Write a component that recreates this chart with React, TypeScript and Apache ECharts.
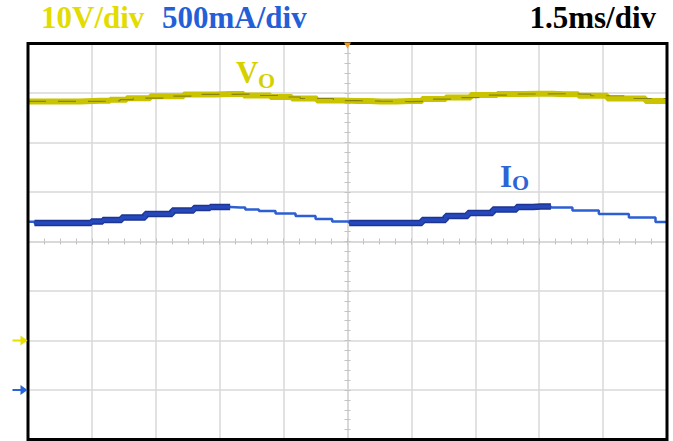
import React, { useEffect, useRef } from "react";
import * as echarts from "echarts";

// ---- Data ----
// Output voltage Vo (CH1, 10 V/div, ground marker 2 div below centre)
const voTimeMs = [0, 0.75, 1.69, 2.16, 2.47, 3.27, 4.04, 4.75, 5.38, 6.0, 6.39, 7.17, 7.74, 8.28, 8.98, 9.52, 10.09, 10.7, 11.33, 11.97, 12.63, 13.21, 13.99, 15.0];
const voVolts = [48.3, 48.3, 48.42, 48.66, 48.96, 49.36, 49.72, 49.8, 49.49, 49.19, 48.89, 48.46, 48.36, 48.26, 48.36, 48.77, 49.07, 49.58, 49.8, 49.84, 49.74, 49.43, 48.89, 48.36];

// Output current Io (CH2, 500 mA/div, ground marker 3 div below centre)
const ioTimeMs = [0, 0.3, 1.39, 1.58, 1.93, 2.47, 3.03, 3.74, 4.04, 4.51, 4.98, 5.22, 5.62, 6.0, 6.56, 6.94, 7.34, 7.74, 8.98, 9.52, 10.09, 10.56, 11.26, 11.68, 12.04, 12.51, 13.05, 13.75, 14.46, 15.0];
const ioMilliamps = [1700, 1687, 1687, 1702, 1717, 1742, 1778, 1813, 1838, 1848, 1843, 1823, 1808, 1783, 1758, 1727, 1702, 1687, 1687, 1717, 1758, 1788, 1823, 1848, 1854, 1843, 1813, 1778, 1742, 1697];

// Axis scales
const timeAxis = { min: 0, max: 15, interval: 1.5 }; // 1.5 ms/div, 10 div
const voltAxis = { min: -20, max: 60, interval: 10 }; // 10 V/div, 8 div
const ampAxis = { min: -500, max: 3500, interval: 500 }; // 500 mA/div, 8 div
const divX = { min: -5, max: 5, interval: 1 };
const divY = { min: -4, max: 4, interval: 1 };

// Text
const scaleLabels = { volt: "10V/div", amp: "500mA/div", time: "1.5ms/div" };
const traceNames = { vo: ["V", "O"], io: ["I", "O"] };
const groundMarkers = { volt: 0, amp: 0 };
const triggerTimeMs = 7.5;

const gridColor = "#d9d9d9";
const tickColor = "#c2c2c2";
const yellow = "#c9c300";
const yellowText = "#e2dc00";
const blue = "#2c5fd2";
const blueDark = "#1d3590";
const blueMid = "#2548bc";
const serif = "'Liberation Serif', 'Times New Roman', serif";

const arrowPath = "path://M0,4 L8,4 L8,0 L15,5 L8,10 L8,6 L0,6 Z";

function buildOption() {
  const n = ioMilliamps.length;
  const rising = ioMilliamps.map((v, i) => i < n - 1 && ioMilliamps[i + 1] >= v);
  const ioThick = ioTimeMs.map((t, i) => [t, rising[i] || (i > 0 && rising[i - 1]) ? ioMilliamps[i] : null]);
  const ioData = ioTimeMs.map((t, i) => [t, ioMilliamps[i]]);
  const voData = voTimeMs.map((t, i) => [t, voVolts[i]]);

  const hidden = { axisLabel: { show: false }, axisTick: { show: false }, splitLine: { show: false }, axisLine: { show: false } };
  const tickLine = { show: true, lineStyle: { color: gridColor, width: 1.5 } };

  const centreX = (inside: boolean) => ({
    type: "value",
    gridIndex: 0,
    position: "bottom",
    ...divX,
    axisLine: { ...tickLine, onZero: true, onZeroAxisIndex: 2 },
    axisTick: { show: true, inside, length: 3, lineStyle: { color: tickColor, width: 1 } },
    minorTick: { show: true, splitNumber: 4, length: 3, lineStyle: { color: tickColor, width: 1 } },
    axisLabel: { show: false },
    splitLine: { show: false },
  });
  const centreY = (inside: boolean) => ({
    type: "value",
    gridIndex: 0,
    position: "left",
    ...divY,
    axisLine: { ...tickLine, onZero: true, onZeroAxisIndex: 1 },
    axisTick: { show: true, inside, length: 3, lineStyle: { color: tickColor, width: 1 } },
    minorTick: { show: true, splitNumber: 5, length: 3, lineStyle: { color: tickColor, width: 1 } },
    axisLabel: { show: false },
    splitLine: { show: false },
  });

  return {
    animation: false,
    backgroundColor: "#ffffff",
    grid: {
      left: 28,
      top: 43.5,
      width: 639,
      height: 396,
      show: true,
      z: 5,
      borderColor: "#000000",
      borderWidth: 3,
      backgroundColor: "transparent",
    },
    xAxis: [
      {
        type: "value",
        gridIndex: 0,
        position: "bottom",
        ...timeAxis,
        ...hidden,
        splitLine: { show: true, lineStyle: { color: gridColor, width: 1.5 } },
      },
      centreX(true),
      centreX(false),
    ],
    yAxis: [
      {
        type: "value",
        gridIndex: 0,
        position: "left",
        ...voltAxis,
        ...hidden,
        splitLine: { show: true, lineStyle: { color: gridColor, width: 1.5 } },
      },
      { type: "value", gridIndex: 0, position: "right", ...ampAxis, ...hidden },
      centreY(true),
      centreY(false),
    ],
    graphic: [
      { type: "text", left: 41, top: 2, style: { text: scaleLabels.volt, fill: yellowText, font: `bold 31px ${serif}` } },
      { type: "text", left: 162, top: 2, style: { text: scaleLabels.amp, fill: "#2360d8", font: `bold 31px ${serif}` } },
      { type: "text", right: 17, top: 2, style: { text: scaleLabels.time, fill: "#000000", font: `bold 31px ${serif}` } },
      { type: "text", x: 236, y: 72.5, style: { text: traceNames.vo[0], fill: "#d6d000", font: `bold 31px ${serif}`, verticalAlign: "middle" } },
      { type: "text", x: 258, y: 80, style: { text: traceNames.vo[1], fill: "#d6d000", font: `bold 22px ${serif}`, verticalAlign: "middle" } },
      { type: "text", x: 500, y: 176, style: { text: traceNames.io[0], fill: "#2d64d6", font: `bold 31px ${serif}`, verticalAlign: "middle" } },
      { type: "text", x: 512, y: 182, style: { text: traceNames.io[1], fill: "#2d64d6", font: `bold 22px ${serif}`, verticalAlign: "middle" } },
    ],
    series: [
      {
        name: "Vo",
        type: "line",
        xAxisIndex: 0,
        yAxisIndex: 0,
        data: voData,
        step: "middle",
        showSymbol: false,
        lineStyle: { color: yellow, width: 6 },
        markPoint: {
          symbol: arrowPath,
          symbolSize: [15, 10],
          symbolOffset: [-8, 0],
          label: { show: false },
          itemStyle: { color: "#e6e000" },
          data: [{ coord: [timeAxis.min, groundMarkers.volt] }],
        },
        z: 2,
      },
      {
        name: "Vo edge",
        type: "line",
        xAxisIndex: 0,
        yAxisIndex: 0,
        data: voData,
        step: "end",
        showSymbol: false,
        lineStyle: { color: "#5d5a12", width: 1.1, type: [18, 12], opacity: 0.6 },
        z: 3,
      },
      {
        name: "Io",
        type: "line",
        xAxisIndex: 0,
        yAxisIndex: 1,
        data: ioData,
        step: "middle",
        showSymbol: false,
        lineStyle: { color: blue, width: 2.5 },
        markPoint: {
          symbol: arrowPath,
          symbolSize: [15, 10],
          symbolOffset: [-8, 0],
          label: { show: false },
          itemStyle: { color: "#2a62d8" },
          data: [{ coord: [timeAxis.min, groundMarkers.amp] }],
        },
        z: 2,
      },
      {
        name: "Io band",
        type: "line",
        xAxisIndex: 0,
        yAxisIndex: 1,
        data: ioThick,
        step: "middle",
        showSymbol: false,
        connectNulls: false,
        lineStyle: { color: blueDark, width: 6.5 },
        z: 3,
      },
      {
        name: "Io band fill",
        type: "line",
        xAxisIndex: 0,
        yAxisIndex: 1,
        data: ioThick,
        step: "middle",
        showSymbol: false,
        connectNulls: false,
        lineStyle: { color: blueMid, width: 3.5 },
        z: 4,
      },
      {
        name: "Trigger",
        type: "line",
        xAxisIndex: 0,
        yAxisIndex: 0,
        data: [],
        z: 8,
        markPoint: {
          symbol: "triangle",
          symbolRotate: 180,
          symbolSize: [7, 6],
          symbolOffset: [0, 2],
          label: { show: false },
          itemStyle: { color: "#f39a1e" },
          data: [{ coord: [triggerTimeMs, voltAxis.max] }],
        },
      },
    ],
  };
}

export default function App() {
  const ref = useRef<HTMLDivElement>(null);
  useEffect(() => {
    document.body.style.margin = "0";
    const chart = echarts.init(ref.current as HTMLDivElement, null, { renderer: "svg" });
    chart.setOption(buildOption() as any);
    return () => chart.dispose();
  }, []);
  return <div ref={ref} style={{ width: 673, height: 441 }} />;
}
